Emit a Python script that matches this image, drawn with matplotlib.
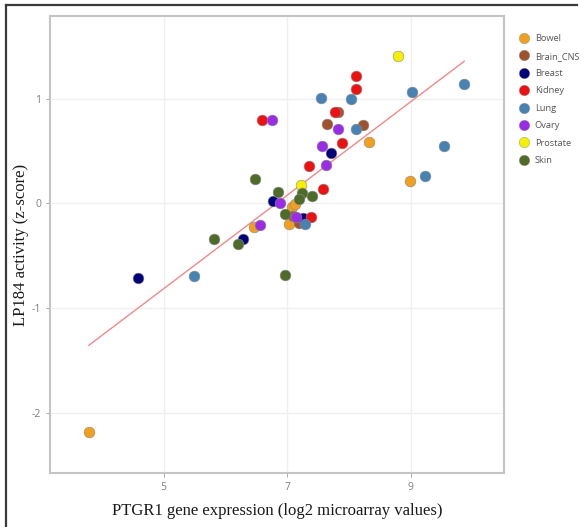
import numpy as np
import matplotlib
matplotlib.use("Agg")
import matplotlib.pyplot as plt
from matplotlib.lines import Line2D

plt.rcParams["axes.unicode_minus"] = False

# tissue groups, colours, and (log2 PTGR1, LP184 z-score)
tissues = ["Bowel", "Brain_CNS", "Breast", "Kidney", "Lung", "Ovary", "Prostate", "Skin"]
colors = ["#f0a01e", "#a0522d", "#00007a", "#ee1111", "#4682b4", "#9a2be6", "#f5f000", "#4f6b2a"]

bowel_x = [3.79, 6.46, 7.03, 7.08, 7.13, 8.33, 8.99]
bowel_y = [-2.18, -0.23, -0.20, -0.035, -0.01, 0.583, 0.217]
brain_x = [7.65, 7.83, 8.23, 7.09, 7.19]
brain_y = [0.758, 0.873, 0.745, -0.118, -0.187]
breast_x = [4.58, 6.28, 6.77, 7.26, 7.72]
breast_y = [-0.71, -0.34, 0.019, -0.137, 0.484]
kidney_x = [6.60, 7.35, 8.11, 8.12, 7.77, 7.89, 7.59, 7.38]
kidney_y = [0.797, 0.36, 1.213, 1.096, 0.873, 0.573, 0.137, -0.13]
lung_x = [9.87, 9.03, 7.55, 8.03, 8.12, 9.55, 9.23, 7.29, 5.50]
lung_y = [1.14, 1.064, 1.007, 0.997, 0.71, 0.545, 0.265, -0.20, -0.69]
ovary_x = [6.76, 7.82, 7.56, 7.63, 6.89, 7.14, 6.57]
ovary_y = [0.797, 0.714, 0.545, 0.367, 0.007, -0.13, -0.21]
prostate_x = [8.79, 7.23]
prostate_y = [1.408, 0.176]
skin_x = [6.48, 6.85, 7.24, 7.40, 7.19, 6.97, 5.81, 6.20, 6.96]
skin_y = [0.233, 0.105, 0.099, 0.067, 0.042, -0.105, -0.34, -0.39, -0.68]

xs = [bowel_x, brain_x, breast_x, kidney_x, lung_x, ovary_x, prostate_x, skin_x]
ys = [bowel_y, brain_y, breast_y, kidney_y, lung_y, ovary_y, prostate_y, skin_y]

x_ticks = [5, 7, 9]
y_ticks = [-2, -1, 0, 1]

fig = plt.figure(figsize=(5.84, 5.27), dpi=100)
ax = fig.add_axes([0.0856, 0.1025, 0.778, 0.8671])

ax.grid(True, color="#efefef", linewidth=0.9)
ax.set_axisbelow(True)

for name, c, x, y in zip(tissues, colors, xs, ys):
    ax.scatter(x, y, s=60, color=c, edgecolors="#8a8a8a", linewidths=0.4, zorder=3, label=name)

# linear fit across all cell lines
all_x = np.concatenate([np.array(v) for v in xs])
all_y = np.concatenate([np.array(v) for v in ys])
slope, intercept = np.polyfit(all_x, all_y, 1)
fx = np.array([all_x.min(), all_x.max()])
ax.plot(fx, slope * fx + intercept, color="#ee8a8a", linewidth=1.0, zorder=2)

ax.set_xlim(3.16, 10.52)
ax.set_ylim(-2.575, 1.79)
ax.set_xticks(x_ticks)
ax.set_yticks(y_ticks)
ax.tick_params(colors="#9a9a9a", labelcolor="#808080", labelsize=7.5, length=3, width=0.6)
for lbl in ax.get_xticklabels() + ax.get_yticklabels():
    lbl.set_family("Open Sans")

for sp in ax.spines.values():
    sp.set_color("#c4c4c4")
    sp.set_linewidth(1.5)

ax.set_xlabel("PTGR1 gene expression (log2 microarray values)", family="Liberation Serif",
              fontsize=12, color="#1a1a1a", labelpad=7)
ax.set_ylabel("LP184 activity (z-score)", family="Liberation Serif",
              fontsize=12, color="#1a1a1a")
ax.yaxis.set_label_coords(-0.046, 0.5)

handles = [Line2D([], [], marker="o", linestyle="", markersize=7.5, markerfacecolor=c,
                  markeredgecolor="#8a8a8a", markeredgewidth=0.3) for c in colors]
fig.legend(handles, tissues, loc="upper left", bbox_to_anchor=(0.882, 0.942), frameon=False,
           prop={"family": "Open Sans", "size": 6.7}, labelcolor="#555555",
           handletextpad=0.5, labelspacing=0.9, handlelength=1.2, borderaxespad=0)

# outer screenshot frame (left and top edges)
fig.add_artist(Line2D([0.011, 0.011], [0.0, 0.990], color="#3a3a3a", linewidth=1.6))
fig.add_artist(Line2D([0.011, 0.988], [0.990, 0.990], color="#3a3a3a", linewidth=1.6))

fig.savefig("out.png", dpi=100)
